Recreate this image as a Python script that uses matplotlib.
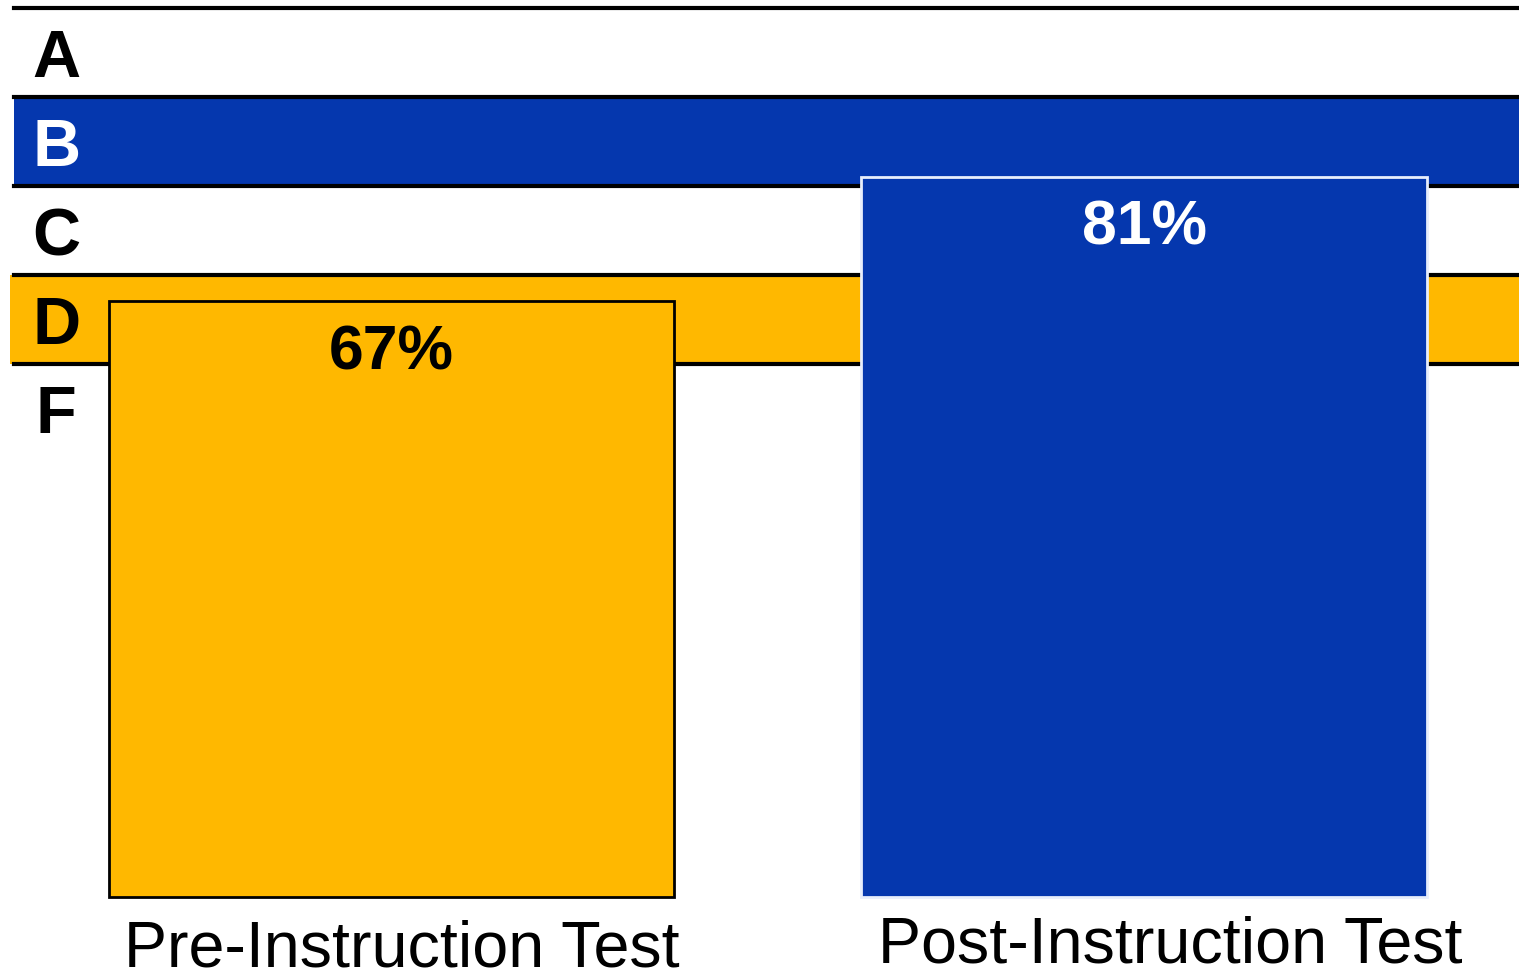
import matplotlib
matplotlib.use('Agg')
import matplotlib.pyplot as plt

# data
tests = ['Pre-Instruction Test', 'Post-Instruction Test']
scores = [67, 81]
grades = ['A', 'B', 'C', 'D', 'F']
grade_bounds = [100, 90, 80, 70, 60, 50]   # upper/lower limits of each grade band
shaded = {'B': '#0537ae', 'D': '#ffb800'}

blue = '#0537ae'
orange = '#ffb800'

fig = plt.figure(figsize=(15.19, 9.71), dpi=100)
ax = fig.add_axes([0, 0, 1, 1])
ax.set_xlim(-0.520, 1.498)
ax.set_ylim(-8.3, 100.9)
ax.axis('off')

band_x0 = 0.0092
band_left = {'B': 0.0092, 'D': 0.0066}
# grade bands
for i, g in enumerate(grades):
    hi, lo = grade_bounds[i], grade_bounds[i + 1]
    if g in shaded:
        ax.axhspan(lo, hi, xmin=band_left[g], xmax=1, color=shaded[g], zorder=1, lw=0)
    txt_col = 'white' if g == 'B' else 'black'
    ax.text(-0.4455, (hi + lo) / 2 - 2.8, g, ha='center', va='baseline', fontsize=48,
            fontweight='bold', color=txt_col, family='Liberation Sans', zorder=2)
for b in grade_bounds[:-1]:
    ax.axhline(b, xmin=band_x0, xmax=1, color='black', lw=3, zorder=1.5)

# bars
x = [0, 1]
bar_cols = [orange, blue]
edge_cols = ['black', '#e8eefc']
bars = ax.bar(x, scores, width=0.751, color=bar_cols, edgecolor=edge_cols,
              linewidth=2, zorder=3)

label_cols = ['black', 'white']
for xi, s, c in zip(x, scores, label_cols):
    ax.text(xi, s - 7.6, f'{s}%', ha='center', va='baseline', fontsize=45,
            fontweight='bold', color=c, family='Liberation Sans', zorder=4)

# category labels under bars
name_dx = [0.014, 0.035]
name_y = [-7.85, -7.3]
for xi, name, dx, yy in zip(x, tests, name_dx, name_y):
    ax.text(xi + dx, yy, name, ha='center', va='baseline', fontsize=46.5,
            family=['Liberation Sans Narrow', 'Liberation Sans'], zorder=4)

fig.savefig('out.png', dpi=100)
